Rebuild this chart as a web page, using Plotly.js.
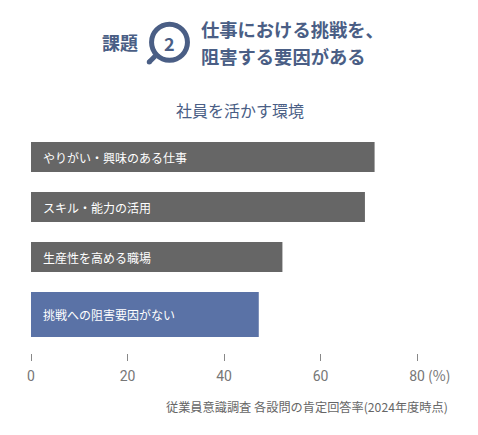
<!DOCTYPE html>
<html><head><meta charset="utf-8">
<script src="https://cdn.plot.ly/plotly-3.0.1.min.js"></script>
<style>html,body{margin:0;padding:0;background:#fff}#c{width:478px;height:435px}</style></head>
<body><div id="c"></div>
<script>
const categories = ["やりがい・興味のある仕事","スキル・能力の活用","生産性を高める職場","挑戦への阻害要因がない"];
const values = [71.2, 69.2, 52.1, 47.2];
const barColors = ["#666666","#666666","#666666","#5a72a6"];
const barWidths = [0.6,0.6,0.6,0.9];
const tickValues = [0,20,40,60,80];

const W=478,H=435,mL=30.5,mR=17.6,mT=132,mB=82;
const px=x=>(x-mL)/(W-mL-mR), py=y=>1-(y-mT)/(H-mT-mB);
const JP='"Noto Sans CJK JP","Noto Sans",sans-serif';
const navy='#4a5e85';
const note=(t,x,y,size,color,anchor)=>({text:t,xref:'paper',yref:'paper',x:px(x),y:py(y),xanchor:anchor||'left',yanchor:'middle',showarrow:false,font:{family:JP,size:size,color:color}});

const annotations=[
  note('<b>課題</b>',100,42,18,navy),
  note('<b>2</b>',169.3,42.5,18,navy,'center'),
  note('<b>仕事における挑戦を、</b>',199,29,18.3,navy),
  note('<b>阻害する要因がある</b>',199,56,18.3,navy),
  note('社員を活かす環境',239.5,110,16,navy,'center'),
  note('(%)',439,375,14,'#777777','center'),
  note('従業員意識調査 各設問の肯定回答率(2024年度時点)',450,406.5,12.2,'#666666','right'),
];
categories.forEach((c,i)=>annotations.push({text:c,xref:'x',yref:'y',x:0,y:c,xshift:10,yshift:-(barWidths[i]-0.6)/2*50,xanchor:'left',yanchor:'middle',showarrow:false,font:{family:JP,size:12,color:'#ffffff'}}));

const shapes=[
  {type:'line',xref:'paper',yref:'paper',x0:px(155),y0:py(56),x1:px(149),y1:py(62),line:{color:navy,width:5}},
  {type:'circle',xref:'paper',yref:'paper',x0:px(146.5),y0:py(59.5),x1:px(151.5),y1:py(64.5),line:{width:0},fillcolor:navy},
  {type:'circle',xref:'paper',yref:'paper',x0:px(151.3),y0:py(24.3),x1:px(187.3),y1:py(60.3),line:{color:navy,width:5},fillcolor:'#ffffff'},
];

Plotly.newPlot('c',[{type:'bar',orientation:'h',y:categories,x:values,
  width:barWidths,offset:-0.3,marker:{color:barColors,line:{width:0}},hoverinfo:'skip'}],
{
  width:W,height:H,showlegend:false,paper_bgcolor:'#fff',plot_bgcolor:'#fff',
  margin:{l:mL,r:mR,t:mT,b:mB,pad:0},
  xaxis:{range:[0,88.9],tickmode:'array',tickvals:tickValues,ticks:'outside',ticklen:7,tickwidth:1,tickcolor:'#888888',ticklabelstandoff:3,
    showline:false,showgrid:false,zeroline:false,tickfont:{family:'Roboto,sans-serif',size:14,color:'#777777'}},
  yaxis:{type:'category',categoryorder:'array',categoryarray:categories,range:[3.92,-0.5],showticklabels:false,ticks:'',showline:false,showgrid:false,zeroline:false},
  annotations,shapes
},{staticPlot:true,displayModeBar:false});
</script></body></html>
